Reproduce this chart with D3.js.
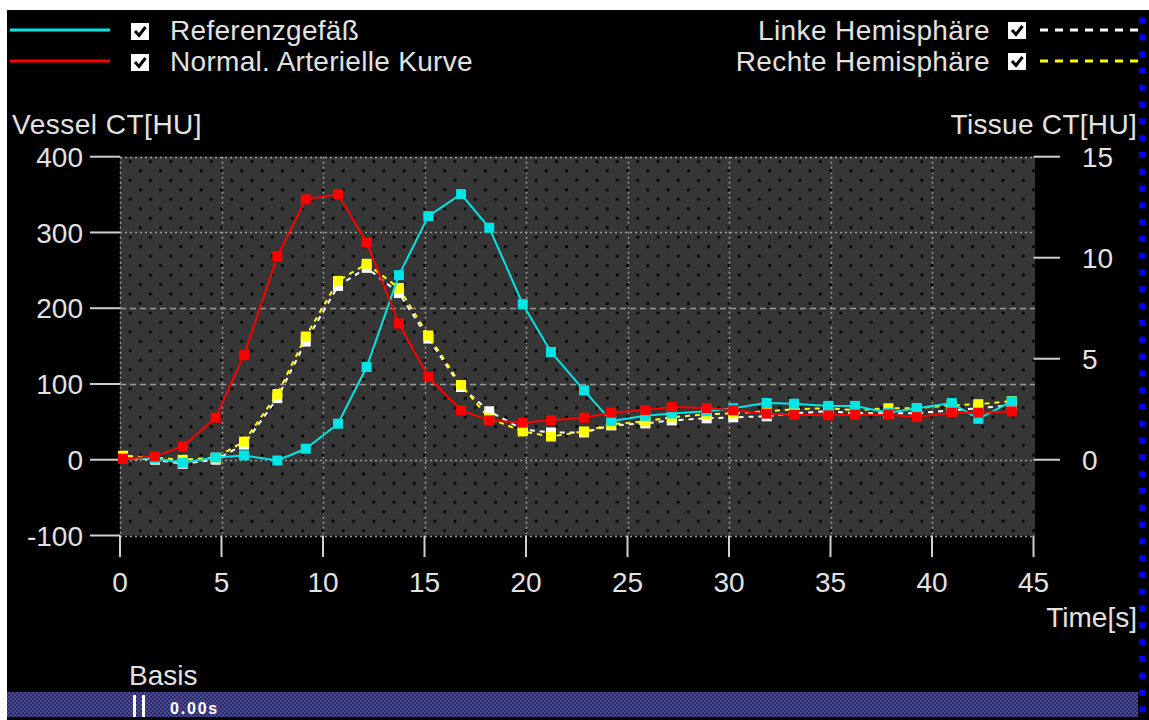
<!DOCTYPE html>
<html>
<head>
<meta charset="utf-8">
<script src="https://cdn.jsdelivr.net/npm/d3@7"></script>
<style>
  html, body { margin: 0; padding: 0; background: #ffffff; }
  svg { display: block; }
  text { font-family: "Liberation Sans", Arial, sans-serif; }
</style>
</head>
<body>
<svg id="chart" width="1149" height="720"></svg>
<script>
// ---------------- data ----------------
const times = [0.15, 1.72, 3.09, 4.71, 6.11, 7.75, 9.15, 10.74, 12.15, 13.74,
               15.19, 16.80, 18.19, 19.84, 21.23, 22.86, 24.2, 25.88, 27.18, 28.90,
               30.21, 31.86, 33.20, 34.89, 36.21, 37.85, 39.25, 40.97, 42.28, 43.93];
// Vessel CT [HU]
const referenzgefaess = [2, 2, -4, 3, 5.7, -1, 14.5, 47.6, 122.4, 243.7,
                         321.6, 350.7, 306.2, 205.3, 142.2, 91.6, 51, 58, 61, 64,
                         68, 75, 74, 71, 71, 62, 68, 75, 54, 77];
const normalArteriell = [1, 4.5, 17.6, 55.5, 138, 268.7, 343.7, 350.3, 286.8, 179.8,
                         109.2, 65.2, 52, 48.9, 52, 55.5, 62.1, 65.5, 69.5, 68.2,
                         65.2, 60.8, 59.5, 58.6, 59.5, 59.5, 56.3, 62.1, 62.1, 63.8];
// Tissue CT [HU]
const linkeHemisphaere = [0.1, 0.0, -0.2, 0.0, 0.75, 3.05, 5.85, 8.6, 9.5, 8.25,
                          6.0, 3.6, 2.4, 1.5, 1.35, 1.35, 1.7, 1.8, 1.95, 2.05,
                          2.1, 2.15, 2.3, 2.4, 2.3, 2.3, 2.3, 2.45, 2.55, 2.7];
const rechteHemisphaere = [0.2, 0.1, 0.0, 0.1, 0.9, 3.25, 6.1, 8.85, 9.7, 8.5,
                           6.15, 3.7, 2.05, 1.4, 1.15, 1.4, 1.75, 1.9, 2.1, 2.25,
                           2.3, 2.4, 2.5, 2.55, 2.45, 2.55, 2.55, 2.7, 2.75, 2.9];
const timeTicks = [0, 5, 10, 15, 20, 25, 30, 35, 40, 45];
const vesselTicks = [-100, 0, 100, 200, 300, 400];
const tissueTicks = [0, 5, 10, 15];
const legendLeft = ["Referenzgefäß", "Normal. Arterielle Kurve"];
const legendRight = ["Linke Hemisphäre", "Rechte Hemisphäre"];

// ---------------- setup ----------------
const svg = d3.select("#chart");
const W = 1149, H = 720;
const TXT = "#e2e2e2";
const FS = 28;

const x = d3.scaleLinear().domain([0, 45]).range([120, 1033.5]);
const yV = d3.scaleLinear().domain([-100, 400]).range([535.5, 156.7]);
const yT = d3.scaleLinear().domain([-3.75, 15]).range([535.5, 156.7]);

// window background
svg.append("rect").attr("x", 7).attr("y", 10).attr("width", W - 7).attr("height", H - 10).attr("fill", "#000");

const defs = svg.append("defs");
// dotted plot pattern (staggered dots at 1 s / 12.5 HU)
const px = x(1) - x(0), py = yV(0) - yV(12.5);
const D = 2.6;
const pat = defs.append("pattern").attr("id", "dots").attr("patternUnits", "userSpaceOnUse")
  .attr("x", x(0) + px / 2).attr("y", yV(400) + py / 2).attr("width", px).attr("height", py * 2);
[[0, 0], [px, 0], [px / 2, py], [0, 2 * py], [px, 2 * py]].forEach(([a, b]) => {
  pat.append("rect").attr("x", a - D / 2).attr("y", b - D / 2).attr("width", D).attr("height", D).attr("fill", "#000");
});

// bottom bar pattern
const bp = defs.append("pattern").attr("id", "barpat").attr("patternUnits", "userSpaceOnUse")
  .attr("width", 4).attr("height", 4);
bp.append("rect").attr("width", 4).attr("height", 4).attr("fill", "#2c2c68");
bp.append("rect").attr("x", 0).attr("y", 0).attr("width", 2).attr("height", 2).attr("fill", "#4a4a94");
bp.append("rect").attr("x", 2).attr("y", 2).attr("width", 2).attr("height", 2).attr("fill", "#4a4a94");

// plot area
const px0 = x(0), px1 = x(45) + 1.5, pyTop = yV(400), pyBot = yV(-100);
svg.append("rect").attr("x", px0).attr("y", pyTop).attr("width", px1 - px0).attr("height", pyBot - pyTop)
  .attr("fill", "#363636");

// grid lines
const grid = svg.append("g");
grid.selectAll("line.gx").data(timeTicks.filter(d => d < 45)).enter().append("line")
  .attr("x1", d => Math.round(x(d)) + 0.5).attr("x2", d => Math.round(x(d)) + 0.5)
  .attr("y1", pyTop).attr("y2", pyBot)
  .attr("stroke", "#9a9a9a").attr("stroke-width", 1.5).attr("stroke-dasharray", "2,3");
grid.selectAll("line.gy").data(vesselTicks).enter().append("line")
  .attr("x1", px0).attr("x2", px1)
  .attr("y1", d => Math.round(yV(d)) + 0.5).attr("y2", d => Math.round(yV(d)) + 0.5)
  .attr("stroke", "#9a9a9a").attr("stroke-width", 1.5)
  .attr("stroke-dasharray", d => (d === 100 || d === 200) ? "6,4" : "2,3");

// dots on top
svg.append("rect").attr("x", px0 + 1).attr("y", pyTop + 1).attr("width", px1 - px0 - 1).attr("height", pyBot - pyTop - 1)
  .attr("fill", "url(#dots)");

// axes ticks
const axisCol = "#cfcfcf";
svg.selectAll("line.ly").data(vesselTicks).enter().append("line")
  .attr("x1", 90).attr("x2", px0).attr("y1", d => yV(d)).attr("y2", d => yV(d))
  .attr("stroke", axisCol).attr("stroke-width", 2);
svg.selectAll("text.ly").data(vesselTicks).enter().append("text")
  .attr("x", 83).attr("y", d => yV(d)).attr("dy", "0.36em").attr("text-anchor", "end")
  .attr("fill", TXT).attr("font-size", FS).text(d => d);

svg.selectAll("line.ry").data(tissueTicks).enter().append("line")
  .attr("x1", px1 - 1.5).attr("x2", 1060).attr("y1", d => yT(d)).attr("y2", d => yT(d))
  .attr("stroke", axisCol).attr("stroke-width", 2);
svg.selectAll("text.ry").data(tissueTicks).enter().append("text")
  .attr("x", 1082).attr("y", d => yT(d)).attr("dy", "0.36em").attr("text-anchor", "start")
  .attr("fill", TXT).attr("font-size", FS).text(d => d);

svg.selectAll("line.tx").data(timeTicks).enter().append("line")
  .attr("x1", d => x(d)).attr("x2", d => x(d)).attr("y1", pyBot).attr("y2", 557)
  .attr("stroke", axisCol).attr("stroke-width", 2);
svg.selectAll("text.tx").data(timeTicks).enter().append("text")
  .attr("x", d => x(d)).attr("y", 592).attr("text-anchor", "middle")
  .attr("fill", TXT).attr("font-size", FS).text(d => d);

// axis titles
svg.append("text").attr("x", 12).attr("y", 134).attr("fill", TXT).attr("font-size", FS)
  .attr("letter-spacing", 0.5).text("Vessel CT[HU]");
svg.append("text").attr("x", 1137).attr("y", 134).attr("text-anchor", "end").attr("fill", TXT).attr("font-size", FS)
  .attr("letter-spacing", 0.3).text("Tissue CT[HU]");
svg.append("text").attr("x", 1137).attr("y", 627).attr("text-anchor", "end").attr("fill", TXT).attr("font-size", FS).text("Time[s]");

// ---------------- series ----------------
const plot = svg.append("g");
function series(vals, yScale, color, dashed, dashOffset) {
  const pts = vals.map((v, i) => [times[i], v]);
  const line = d3.line().x(d => x(d[0])).y(d => yScale(d[1]));
  plot.append("path").attr("d", line(pts)).attr("fill", "none").attr("stroke", color)
    .attr("stroke-width", 2).attr("stroke-dasharray", dashed ? "5,5" : null)
    .attr("stroke-dashoffset", dashOffset || 0);
  plot.selectAll(null).data(pts).enter().append("rect")
    .attr("x", d => x(d[0]) - 5).attr("y", d => yScale(d[1]) - 5)
    .attr("width", 10).attr("height", 10).attr("fill", color);
}
series(linkeHemisphaere, yT, "#ffffff", true, 0);
series(rechteHemisphaere, yT, "#ffff00", true, 5);
series(referenzgefaess, yV, "#00e5e5", false);
series(normalArteriell, yV, "#ff0000", false);

// ---------------- legend ----------------
function checkbox(cx, cy) {
  const g = svg.append("g").attr("transform", `translate(${cx},${cy})`);
  g.append("rect").attr("width", 18).attr("height", 17).attr("fill", "#fff");
  g.append("path").attr("d", "M4,8 L8,12.5 L14.5,4").attr("fill", "none")
    .attr("stroke", "#000").attr("stroke-width", 3);
}
const legY = [30, 61];
// left legend
svg.append("line").attr("x1", 10).attr("x2", 110).attr("y1", legY[0]).attr("y2", legY[0])
  .attr("stroke", "#00e5e5").attr("stroke-width", 3);
svg.append("line").attr("x1", 10).attr("x2", 110).attr("y1", legY[1]).attr("y2", legY[1])
  .attr("stroke", "#ff0000").attr("stroke-width", 3);
legendLeft.forEach((t, i) => {
  checkbox(131, legY[i] - 7);
  svg.append("text").attr("x", 170).attr("y", legY[i] + 10).attr("fill", TXT).attr("font-size", FS)
    .attr("letter-spacing", 0.3).text(t);
});
// right legend
const rColors = ["#ffffff", "#ffff00"];
legendRight.forEach((t, i) => {
  svg.append("text").attr("x", 990).attr("y", legY[i] + 10).attr("text-anchor", "end")
    .attr("fill", TXT).attr("font-size", FS).attr("letter-spacing", 0.4).text(t);
  checkbox(1008, legY[i] - 8);
  svg.append("line").attr("x1", 1040).attr("x2", 1138).attr("y1", legY[i]).attr("y2", legY[i])
    .attr("stroke", rColors[i]).attr("stroke-width", 3).attr("stroke-dasharray", "8,7");
});

// ---------------- bottom bar ----------------
svg.append("text").attr("x", 129).attr("y", 685).attr("fill", TXT).attr("font-size", FS).text("Basis");
svg.append("rect").attr("x", 7).attr("y", 692).attr("width", 1131).attr("height", 25).attr("fill", "url(#barpat)");
svg.append("rect").attr("x", 133).attr("y", 695).attr("width", 3).attr("height", 22).attr("fill", "#fff");
svg.append("rect").attr("x", 142).attr("y", 695).attr("width", 3).attr("height", 22).attr("fill", "#fff");
svg.append("text").attr("x", 170).attr("y", 714).attr("fill", "#fff").attr("font-size", 16)
  .attr("font-weight", "bold").attr("letter-spacing", 1.8).text("0.00s");

// right blue dotted edge
svg.selectAll("rect.edge").data(d3.range(0, 42)).enter().append("rect")
  .attr("x", 1139).attr("y", d => 17.5 + d * 16.8).attr("width", 6).attr("height", 6)
  .attr("fill", "#0000ff");
</script>
</body>
</html>
